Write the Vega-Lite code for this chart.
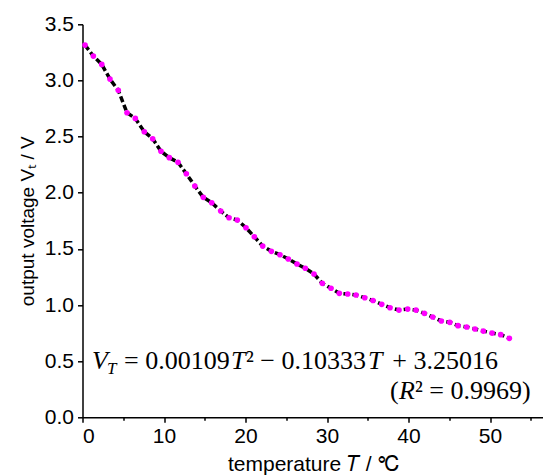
{
  "$schema": "https://vega.github.io/schema/vega-lite/v6.json",
  "width": 460.5,
  "height": 393,
  "autosize": {"type": "none"},
  "padding": {"left": 82.5, "top": 24.3, "right": 0, "bottom": 57.7},
  "config": {
    "view": {"stroke": null},
    "axis": {
      "grid": false,
      "domainColor": "black",
      "domainWidth": 1.5,
      "tickColor": "black",
      "tickWidth": 1.5,
      "labelFont": "Liberation Sans",
      "labelFontSize": 21,
      "labelColor": "black",
      "titleFont": "Liberation Sans",
      "titleFontSize": 21,
      "titleFontWeight": "normal",
      "titleColor": "black"
    }
  },
  "datasets": {
    "pts": [
      {"T": 0.31, "V": 3.315}, {"T": 1.33, "V": 3.217}, {"T": 2.36, "V": 3.143}, {"T": 3.37, "V": 3.012},
      {"T": 4.39, "V": 2.912}, {"T": 5.46, "V": 2.712}, {"T": 6.48, "V": 2.662}, {"T": 7.58, "V": 2.543},
      {"T": 8.61, "V": 2.481}, {"T": 9.63, "V": 2.369}, {"T": 10.65, "V": 2.312}, {"T": 11.72, "V": 2.271},
      {"T": 12.74, "V": 2.169}, {"T": 13.78, "V": 2.06}, {"T": 14.82, "V": 1.959}, {"T": 15.85, "V": 1.911},
      {"T": 16.96, "V": 1.837}, {"T": 17.98, "V": 1.777}, {"T": 18.99, "V": 1.757}, {"T": 20.06, "V": 1.688},
      {"T": 21.08, "V": 1.608}, {"T": 22.11, "V": 1.525}, {"T": 23.17, "V": 1.478}, {"T": 24.23, "V": 1.448},
      {"T": 25.25, "V": 1.41}, {"T": 26.32, "V": 1.365}, {"T": 27.34, "V": 1.327}, {"T": 28.4, "V": 1.276},
      {"T": 29.42, "V": 1.193}, {"T": 30.49, "V": 1.149}, {"T": 31.51, "V": 1.104}, {"T": 32.54, "V": 1.098},
      {"T": 33.56, "V": 1.089}, {"T": 34.63, "V": 1.065}, {"T": 35.64, "V": 1.04}, {"T": 36.71, "V": 1.006},
      {"T": 37.73, "V": 0.976}, {"T": 38.83, "V": 0.955}, {"T": 39.9, "V": 0.964}, {"T": 40.92, "V": 0.955},
      {"T": 41.94, "V": 0.926}, {"T": 42.97, "V": 0.893}, {"T": 44.02, "V": 0.858}, {"T": 45.06, "V": 0.846},
      {"T": 46.07, "V": 0.816}, {"T": 47.14, "V": 0.804}, {"T": 48.16, "V": 0.786}, {"T": 49.18, "V": 0.768},
      {"T": 50.25, "V": 0.75}, {"T": 51.31, "V": 0.736}, {"T": 52.37, "V": 0.703}
    ],
    "upright": [
      {"T": 5.09, "V": 0.43, "label": "= 0.00109"},
      {"T": 20.06, "V": 0.43, "label": "² − 0.10333"},
      {"T": 38.0, "V": 0.43, "label": "+ 3.25016"},
      {"T": 37.74, "V": 0.163, "label": "("},
      {"T": 40.8, "V": 0.163, "label": "² = 0.9969)"}
    ],
    "italic": [
      {"T": 1.166, "V": 0.43, "label": "V"},
      {"T": 18.22, "V": 0.43, "label": "T"},
      {"T": 35.03, "V": 0.43, "label": "T"},
      {"T": 38.83, "V": 0.163, "label": "R"}
    ],
    "sub": [
      {"T": 3.006, "V": 0.386, "label": "T"}
    ]
  },
  "layer": [
    {
      "data": {"name": "pts"},
      "mark": {"type": "line", "color": "black", "strokeWidth": 3.5, "strokeDash": [6, 3]},
      "encoding": {
        "x": {
          "field": "T", "type": "quantitative",
          "scale": {"domain": [0, 56.5], "nice": false, "zero": false},
          "axis": {
            "title": "temperature  𝑇 / ℃",
            "values": [0, 5, 10, 15, 20, 25, 30, 35, 40, 45, 50, 55],
            "labelExpr": "datum.value % 10 === 0 ? datum.label : ''",
            "tickSize": {"condition": {"test": "datum.value % 10 !== 0", "value": 3}, "value": 5},
            "labelPadding": 3,
            "titlePadding": 7
          }
        },
        "y": {
          "field": "V", "type": "quantitative",
          "scale": {"domain": [0, 3.5], "nice": false},
          "axis": {
            "title": "output voltage  Vₜ / V",
            "titleFontSize": 19,
            "values": [0, 0.25, 0.5, 0.75, 1, 1.25, 1.5, 1.75, 2, 2.25, 2.5, 2.75, 3, 3.25, 3.5],
            "labelExpr": "(datum.value * 4) % 2 === 0 ? format(datum.value, '.1f') : ''",
            "tickSize": {"condition": {"test": "(datum.value * 4) % 2 !== 0", "value": 3}, "value": 5},
            "labelPadding": 4,
            "titlePadding": 7
          }
        }
      }
    },
    {
      "data": {"name": "pts"},
      "mark": {"type": "point", "filled": true, "color": "#ff00ff", "opacity": 1, "size": 32},
      "encoding": {
        "x": {"field": "T", "type": "quantitative"},
        "y": {"field": "V", "type": "quantitative"}
      }
    },
    {
      "data": {"name": "upright"},
      "mark": {"type": "text", "font": "Liberation Serif", "fontSize": 26, "align": "left", "baseline": "alphabetic", "color": "black"},
      "encoding": {
        "x": {"field": "T", "type": "quantitative"},
        "y": {"field": "V", "type": "quantitative"},
        "text": {"field": "label"}
      }
    },
    {
      "data": {"name": "italic"},
      "mark": {"type": "text", "font": "Liberation Serif", "fontSize": 26, "fontStyle": "italic", "align": "left", "baseline": "alphabetic", "color": "black"},
      "encoding": {
        "x": {"field": "T", "type": "quantitative"},
        "y": {"field": "V", "type": "quantitative"},
        "text": {"field": "label"}
      }
    },
    {
      "data": {"name": "sub"},
      "mark": {"type": "text", "font": "Liberation Serif", "fontSize": 17, "fontStyle": "italic", "align": "left", "baseline": "alphabetic", "color": "black"},
      "encoding": {
        "x": {"field": "T", "type": "quantitative"},
        "y": {"field": "V", "type": "quantitative"},
        "text": {"field": "label"}
      }
    }
  ]
}
